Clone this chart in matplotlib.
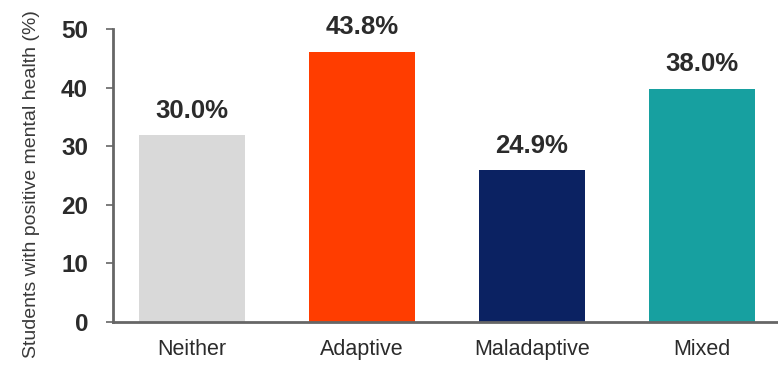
import matplotlib.pyplot as plt
import numpy as np

# Data
categories = ['Neither', 'Adaptive', 'Maladaptive', 'Mixed']
bar_heights = [31.9, 46.1, 25.9, 39.8]
bar_labels = ['30.0%', '43.8%', '24.9%', '38.0%']
colors = ['#d9d9d9', '#ff3d00', '#0b2262', '#17a0a0']
y_ticks = [0, 10, 20, 30, 40, 50]

fam = ['Liberation Sans', 'DejaVu Sans']
text_col = '#2b2b2b'

fig = plt.figure(figsize=(7.78, 3.68), dpi=100)
ax = fig.add_axes([113 / 778, 1 - 322 / 368, 1 - 113 / 778, (322 - 29) / 368])

x = np.arange(len(categories))
bars = ax.bar(x, bar_heights, width=0.62, color=colors, zorder=2)

# value labels above the bars
for rect, lab in zip(bars, bar_labels):
    ax.annotate(lab, (rect.get_x() + rect.get_width() / 2, rect.get_height()),
                xytext=(0, 12.5), textcoords='offset points', ha='center', va='baseline',
                fontsize=18.5, fontweight='bold', family=fam, color=text_col)

ax.set_xlim(-0.465, 3.447)
ax.set_ylim(0, 50)
ax.set_yticks(y_ticks)
ax.set_xticks(x)
ax.set_xticklabels(categories, family=fam, fontsize=15.5, color=text_col)
ax.set_yticklabels([str(t) for t in y_ticks], family=fam, fontsize=17.5,
                   fontweight='bold', color=text_col)
ax.tick_params(axis='x', length=0, pad=12)
ax.tick_params(axis='y', length=5, width=1.2, color='#666666', pad=13)

for s in ['top', 'right']:
    ax.spines[s].set_visible(False)
for s in ['left', 'bottom']:
    ax.spines[s].set_color('#666666')
    ax.spines[s].set_linewidth(2)

fig.text(32 / 778, 1 - 184 / 368, 'Students with positive mental health (%)',
         rotation=90, ha='center', va='center', fontsize=14,
         family=fam, color='#3a3a3a')

fig.savefig('out.png', dpi=100)
